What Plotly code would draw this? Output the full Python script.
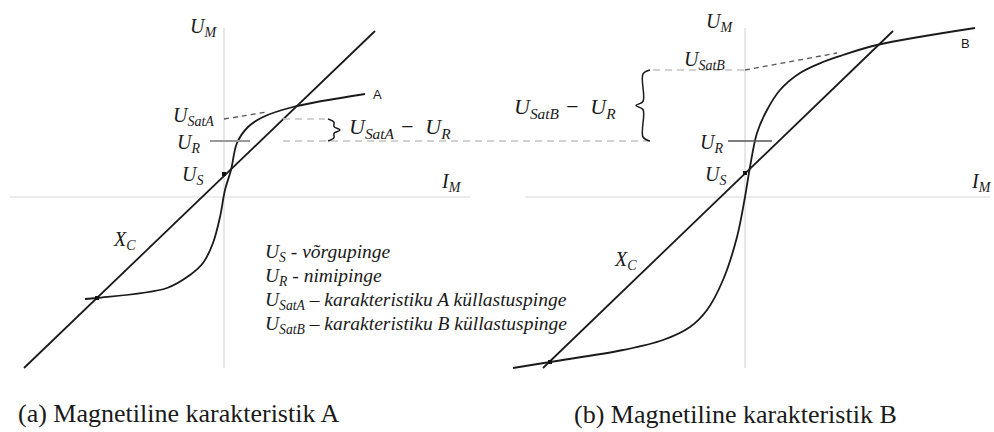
import plotly.graph_objects as go

# ---- Diagram values (I = magnetising current, U = voltage), shared U scale ----
U_S = 23          # grid voltage
U_R = 56          # rated voltage
U_SAT_A = 78      # saturation voltage, characteristic A
U_SAT_B = 127     # saturation voltage, characteristic B

# Panel A
xc_a_i = [-200, 151]
xc_a_u = [-171, 166]
curve_a_i = [-139, -127, -57, -34, -21, -11, -4, 1, 7, 13, 24, 39, 69, 141]
curve_a_u = [-102, -101, -91, -78, -66, -46, -20, 7, 27, 54, 70, 80, 90, 103]
asym_a_i = [0, 43]
asym_a_u = [U_SAT_A, 85]
dots_a_i = [-127, 0]
dots_a_u = [-101, U_S]

# Panel B
xc_b_i = [-202, 148]
xc_b_u = [-171, 166]
curve_b_i = [-232, -195, -122, -82, -55, -38, -22, -8, 0, 5, 12, 22, 35, 55, 78, 98, 132, 230]
curve_b_u = [-171, -165, -153, -143, -130, -113, -83, -40, 0, 30, 64, 87, 107, 124, 135, 142, 152, 169]
asym_b_i = [0, 92]
asym_b_u = [U_SAT_B, 144]
dots_b_i = [-195, 0]
dots_b_u = [-165, U_S + 1]

legend_lines = [
    "<i>U<sub>S</sub> - võrgupinge</i>",
    "<i>U<sub>R</sub> - nimipinge</i>",
    "<i>U<sub>SatA</sub> – karakteristiku A küllastuspinge</i>",
    "<i>U<sub>SatB</sub> – karakteristiku B küllastuspinge</i>",
]
captions = ["(a) Magnetiline karakteristik A", "(b) Magnetiline karakteristik B"]

W, H = 994, 432
ORIGIN_A_PX, ORIGIN_B_PX, ORIGIN_Y_PX = 224, 745, 197

INK = "#1a1a1a"
AXIS = "#d9d9d9"
LIGHT_DASH = "#c4c4c4"
SERIF = "Liberation Serif"
SANS = "Liberation Sans"

fig = go.Figure()


def line(xs, ys, axis, color=INK, width=1.8, dash="solid", shape="linear"):
    fig.add_trace(go.Scatter(
        x=xs, y=ys, mode="lines", xaxis=axis, yaxis="y",
        line=dict(color=color, width=width, dash=dash, shape=shape, smoothing=1.0),
        hoverinfo="skip", showlegend=False))


def brace(x_base, y0, y1, width, axis, direction=1):
    """Curly brace from y0 to y1; tip points in +x (direction=1) or -x (-1)."""
    ym = (y0 + y1) / 2
    h = abs(y1 - y0)
    c = min(4, h * 0.15)
    xs = [x_base, x_base + direction * width * 0.5, x_base + direction * width * 0.5,
          x_base + direction * width, x_base + direction * width * 0.5,
          x_base + direction * width * 0.5, x_base]
    ys = [y1, y1 - c, ym + c, ym, ym - c, y0 + c, y0]
    line(xs, ys, axis, color=INK, width=1.5, shape="spline")


# ---- axes of both panels ----
for axis, i0, i1 in (("x", -214, 246), ("x2", -220, 245)):
    line([i0, i1], [0, 0], axis, color=AXIS, width=1.2)
    line([0, 0], [-171, 169], axis, color=AXIS, width=1.2)

# ---- panel A ----
line(xc_a_i, xc_a_u, "x", width=1.8)
line(curve_a_i, curve_a_u, "x", width=1.8, shape="spline")
line(asym_a_i, asym_a_u, "x", color="#555555", width=1.3, dash="5px,4px")
line([59, 101], [U_SAT_A, U_SAT_A], "x", color=LIGHT_DASH, width=1.3, dash="7px,5px")
line([-14, 26], [U_R, U_R], "x", color="#9a9a9a", width=2)
line([59, 426], [U_R, U_R], "x", color=LIGHT_DASH, width=1.3, dash="7px,5px")
brace(104, U_R, U_SAT_A, 12, "x", direction=1)
fig.add_trace(go.Scatter(x=dots_a_i, y=dots_a_u, mode="markers", xaxis="x", yaxis="y",
                         marker=dict(symbol="square", size=4, color="#111111"),
                         hoverinfo="skip", showlegend=False))

# ---- panel B ----
line(xc_b_i, xc_b_u, "x2", width=1.8)
line(curve_b_i, curve_b_u, "x2", width=1.8, shape="spline")
line(asym_b_i, asym_b_u, "x2", color="#555555", width=1.3, dash="5px,4px")
line([-92, 0], [U_SAT_B, U_SAT_B], "x2", color=LIGHT_DASH, width=1.3, dash="7px,5px")
line([-17, 27], [U_R, U_R], "x2", color="#555555", width=1.3)
brace(-95, U_R, U_SAT_B, 14, "x2", direction=-1)
fig.add_trace(go.Scatter(x=dots_b_i, y=dots_b_u, mode="markers", xaxis="x2", yaxis="y",
                         marker=dict(symbol="square", size=4, color="#111111"),
                         hoverinfo="skip", showlegend=False))

# ---- labels ----
def label(text, x, y, axis, size=18, xanchor="center", yanchor="middle", family=SERIF):
    fig.add_annotation(text=text, x=x, y=y, xref=axis, yref="y", showarrow=False,
                       xanchor=xanchor, yanchor=yanchor,
                       font=dict(family=family, size=size, color=INK))


label("<i>U<sub>M</sub></i>", -5, 170, "x", size=20, xanchor="right")
label("<i>U<sub>SatA</sub></i>", -8, U_SAT_A + 3, "x", size=20, xanchor="right")
label("<i>U<sub>R</sub></i>", -22, U_R - 2, "x", size=20, xanchor="right")
label("<i>U<sub>S</sub></i>", -19, U_S - 1, "x", size=20, xanchor="right")
label("<i>I<sub>M</sub></i>", 227, 15, "x", size=20)
label("<i>X<sub>C</sub></i>", -100, -43, "x", size=20)
label("A", 153, 103, "x", size=13, family=SANS)
label("<i>U<sub>SatA</sub> −  U<sub>R</sub></i>", 123, U_SAT_A - 9, "x", size=22, xanchor="left")

label("<i>U<sub>M</sub></i>", -10, 175, "x2", size=20, xanchor="right")
label("<i>U<sub>SatB</sub></i>", -18, U_SAT_B + 10, "x2", size=20, xanchor="right")
label("<i>U<sub>R</sub></i>", -20, U_R - 2, "x2", size=20, xanchor="right")
label("<i>U<sub>S</sub></i>", -17, U_S - 1, "x2", size=20, xanchor="right")
label("<i>I<sub>M</sub></i>", 236, 15, "x2", size=20)
label("<i>X<sub>C</sub></i>", -120, -63, "x2", size=20)
label("B", 220, 154, "x2", size=13, family=SANS)
label("<i>U<sub>SatB</sub> −  U<sub>R</sub></i>", -127, 89, "x2", size=22, xanchor="right")

for k, txt in enumerate(legend_lines):
    label(txt, 39, -56 - 24 * k, "x", size=19.5, xanchor="left")

label(captions[0], -208, -216, "x", size=26, xanchor="left")
label(captions[1], -173, -217, "x2", size=26, xanchor="left")

# ---- 1 unit = 1 pixel on both axes ----
fig.update_layout(
    width=W, height=H, margin=dict(l=0, r=0, t=0, b=0),
    paper_bgcolor="white", plot_bgcolor="white",
    xaxis=dict(range=[-ORIGIN_A_PX, W - ORIGIN_A_PX], domain=[0, 1], visible=False, fixedrange=True),
    xaxis2=dict(range=[-ORIGIN_B_PX, W - ORIGIN_B_PX], domain=[0, 1], overlaying="x",
                visible=False, fixedrange=True),
    yaxis=dict(range=[ORIGIN_Y_PX - H, ORIGIN_Y_PX], domain=[0, 1], visible=False, fixedrange=True),
    showlegend=False,
)

fig.write_html("out.html")
